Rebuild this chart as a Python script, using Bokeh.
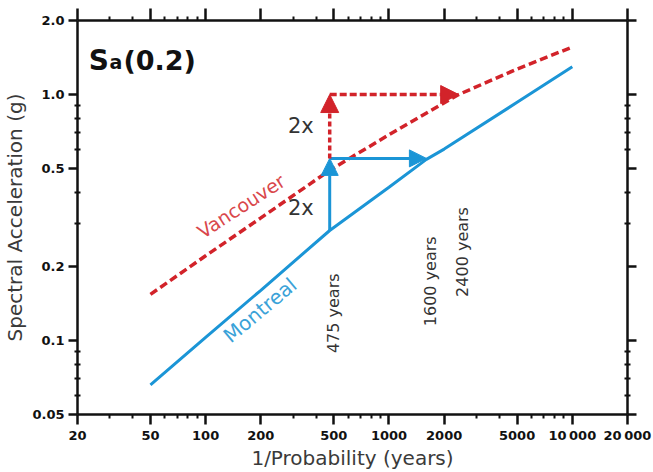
import math
from bokeh.plotting import figure
from bokeh.models import (Range1d, LogAxis, FixedTicker, Arrow, NormalHead, Label,
                          CustomLabelingPolicy)
from bokeh.embed import file_html
from bokeh.resources import INLINE

# ---------------- data ----------------
montreal_period = [50, 100, 200, 475, 1000, 1600, 2000, 5000, 10000]
montreal_sa = [0.066, 0.103, 0.160, 0.280, 0.420, 0.545, 0.600, 0.930, 1.296]

vancouver_period = [50, 100, 200, 475, 1000, 2400, 5000, 10000]
vancouver_sa = [0.154, 0.221, 0.315, 0.492, 0.686, 1.0, 1.27, 1.56]

x_major_ticks = [20, 50, 100, 200, 500, 1000, 2000, 5000, 10000, 20000]
x_tick_labels = ["20", "50", "100", "200", "500", "1000", "2000", "5000",
                 "10\u2009000", "20\u2009000"]
x_minor_ticks = [30, 40, 60, 70, 80, 90, 300, 400, 600, 700, 800, 900,
                 3000, 4000, 6000, 7000, 8000, 9000]

y_major_ticks = [0.05, 0.1, 0.2, 0.5, 1.0, 2.0]
y_tick_labels = ["0.05", "0.1", "0.2", "0.5", "1.0", "2.0"]
y_minor_ticks = [0.06, 0.07, 0.08, 0.09, 0.3, 0.4, 0.6, 0.7, 0.8, 0.9]

# return periods and accelerations for the annotation arrows
design_period = 475
montreal_match_period = 1600
vancouver_match_period = 2400
montreal_design_sa = 0.280
doubled_sa = 0.55
vancouver_doubled_sa = 1.0

BLUE = "#1b95d6"
RED = "#d2232a"
TEXT = "#333333"

# ---------------- figure ----------------
p = figure(width=653, height=472, x_axis_type="log", y_axis_type="log",
           x_range=Range1d(20, 20000), y_range=Range1d(0.05, 2.0),
           output_backend="svg", toolbar_location=None,
           min_border_left=76, min_border_right=26,
           min_border_top=20, min_border_bottom=55)
p.outline_line_color = None
p.grid.visible = False
p.background_fill_color = "white"
p.border_fill_color = "white"


def style_axis(ax, major_out, minor_out, minor_in):
    ax.axis_line_width = 2.5
    ax.axis_line_color = "#111111"
    ax.major_tick_line_color = "#111111"
    ax.minor_tick_line_color = "#111111"
    ax.major_tick_line_width = 2.5
    ax.minor_tick_line_width = 2
    ax.major_tick_out = major_out
    ax.major_tick_in = 0
    ax.minor_tick_out = minor_out
    ax.minor_tick_in = minor_in
    ax.major_label_text_font = "DejaVu Sans"
    ax.major_label_text_font_style = "bold"
    ax.major_label_text_font_size = "13px"
    ax.major_label_text_color = "#111111"
    ax.axis_label_text_font = "DejaVu Sans"
    ax.axis_label_text_font_style = "normal"
    ax.axis_label_text_font_size = "20px"
    ax.axis_label_text_color = "#3a3a3a"


xax = p.xaxis[0]
xax.ticker = FixedTicker(ticks=x_major_ticks, minor_ticks=x_minor_ticks)
xax.major_label_overrides = dict(zip(x_major_ticks, x_tick_labels))
style_axis(xax, 10, 4, 0)
xax.major_label_standoff = 3
xax.axis_label = "1/Probability (years)"
xax.axis_label_standoff = 0

yax = p.yaxis[0]
yax.ticker = FixedTicker(ticks=y_major_ticks, minor_ticks=y_minor_ticks)
yax.major_label_overrides = dict(zip(y_major_ticks, y_tick_labels))
style_axis(yax, 9, 3, 3)
yax.major_label_standoff = 4
yax.axis_label = "Spectral Acceleration (g)"
yax.axis_label_standoff = 2

no_labels = CustomLabelingPolicy(code="return []")

top = LogAxis(ticker=FixedTicker(ticks=x_major_ticks, minor_ticks=x_minor_ticks))
style_axis(top, 12, 4, 0)
top.major_label_policy = no_labels
top.major_label_text_font_size = "0px"
top.major_label_standoff = 0
p.add_layout(top, "above")

right = LogAxis(ticker=FixedTicker(ticks=y_major_ticks, minor_ticks=y_minor_ticks))
style_axis(right, 9, 3, 3)
right.major_label_policy = no_labels
right.major_label_text_font_size = "0px"
right.major_label_standoff = 0
p.add_layout(right, "right")

# ---------------- curves ----------------
p.line(montreal_period, montreal_sa, line_color=BLUE, line_width=3)
p.line(vancouver_period, vancouver_sa, line_color=RED, line_width=3.5,
       line_dash="8 4")

# ---------------- arrows ----------------
p.add_layout(Arrow(end=NormalHead(size=17, fill_color=BLUE, line_color=BLUE),
                   x_start=design_period, y_start=montreal_design_sa,
                   x_end=design_period, y_end=doubled_sa,
                   line_color=BLUE, line_width=3))
p.add_layout(Arrow(end=NormalHead(size=17, fill_color=BLUE, line_color=BLUE),
                   x_start=design_period, y_start=doubled_sa,
                   x_end=montreal_match_period, y_end=doubled_sa,
                   line_color=BLUE, line_width=3))
p.add_layout(Arrow(end=NormalHead(size=18, fill_color=RED, line_color=RED),
                   x_start=design_period, y_start=doubled_sa,
                   x_end=design_period, y_end=vancouver_doubled_sa,
                   line_color=RED, line_width=3.5, line_dash="5 3"))
p.add_layout(Arrow(end=NormalHead(size=18, fill_color=RED, line_color=RED),
                   x_start=design_period, y_start=vancouver_doubled_sa,
                   x_end=vancouver_match_period, y_end=vancouver_doubled_sa,
                   line_color=RED, line_width=3.5, line_dash="7 3"))

# ---------------- text ----------------
p.add_layout(Label(x=23.0, y=1.37, text="S", text_font="DejaVu Sans",
                   text_font_style="bold", text_font_size="28px",
                   text_color="#111111", text_baseline="alphabetic"))
p.add_layout(Label(x=29.9, y=1.35, text="a", text_font="DejaVu Sans",
                   text_font_style="bold", text_font_size="19px",
                   text_color="#111111", text_baseline="alphabetic"))
p.add_layout(Label(x=35.6, y=1.37, text="(0.2)", text_font="DejaVu Sans",
                   text_font_style="bold", text_font_size="27px",
                   text_color="#111111", text_baseline="alphabetic"))

p.add_layout(Label(x=156, y=0.352, text="Vancouver", angle=33,
                   angle_units="deg", text_font="DejaVu Sans",
                   text_font_size="19px", text_color="#d9474b",
                   text_align="center", text_baseline="middle"))
p.add_layout(Label(x=198, y=0.1327, text="Montreal", angle=40,
                   angle_units="deg", text_font="DejaVu Sans",
                   text_font_size="20px", text_color="#3aa2d8",
                   text_align="center", text_baseline="middle"))

for yy in (0.747, 0.345):
    p.add_layout(Label(x=design_period, y=yy, x_offset=-16, text="2x",
                       text_font="DejaVu Sans", text_font_size="21px",
                       text_color=TEXT, text_align="right",
                       text_baseline="middle"))

for per, yy in ((design_period, 0.129), (montreal_match_period, 0.174),
                (vancouver_match_period, 0.229)):
    p.add_layout(Label(x=per, y=yy, x_offset=4, text=f"{per} years",
                       angle=90, angle_units="deg", text_font="DejaVu Sans",
                       text_font_size="16px", text_color=TEXT,
                       text_align="center", text_baseline="middle"))

open("out.html", "w").write(file_html(p, INLINE))
